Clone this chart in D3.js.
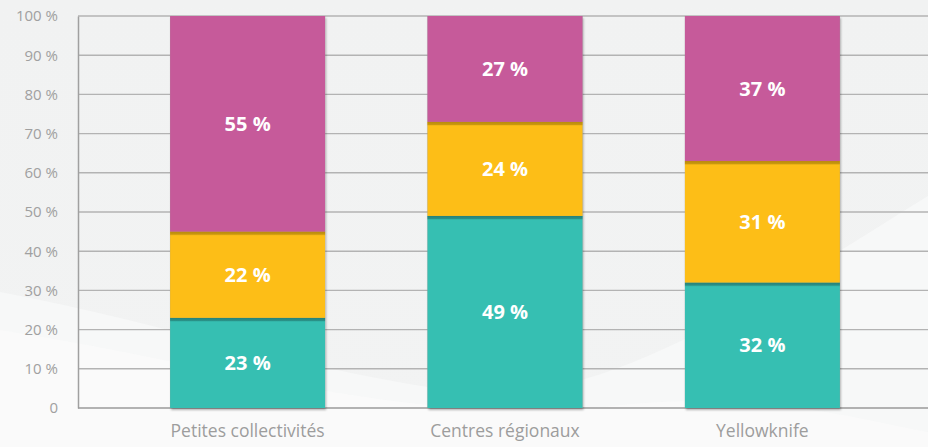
<!DOCTYPE html>
<html>
<head>
<meta charset="utf-8">
<script src="https://cdn.jsdelivr.net/npm/d3@7"></script>
<style>
  html, body { margin: 0; padding: 0; background: #f2f3f3; }
  svg { display: block; }
</style>
</head>
<body>
<div id="chart"></div>
<script>
const categories = ["Petites collectivités", "Centres régionaux", "Yellowknife"];
const seriesNames = ["bas", "milieu", "haut"];
const seriesBas = [23, 49, 32];
const seriesMilieu = [22, 24, 31];
const seriesHaut = [55, 27, 37];
const yTicks = [0, 10, 20, 30, 40, 50, 60, 70, 80, 90, 100];
const yTickLabels = ["0", "10 %", "20 %", "30 %", "40 %", "50 %", "60 %", "70 %", "80 %", "90 %", "100 %"];

const colors = ["#36bfb2", "#fdbe17", "#c65a9a"];
const edgeColors = ["#268178", "#b88a0c", "#9e4479"];

const W = 928, H = 447;
const margin = { left: 78, top: 16, bottom: 39 };

const svg = d3.select("#chart").append("svg")
  .attr("width", W).attr("height", H);

const defs = svg.append("defs");
const bg = defs.append("linearGradient").attr("id", "bg").attr("x1", 0).attr("y1", 0).attr("x2", 0).attr("y2", 1);
bg.append("stop").attr("offset", "0%").attr("stop-color", "#f1f2f2");
bg.append("stop").attr("offset", "100%").attr("stop-color", "#f2f3f3");

const sh = defs.append("filter").attr("id", "shadow").attr("x", "-10%").attr("y", "-10%").attr("width", "120%").attr("height", "120%");
sh.append("feDropShadow").attr("dx", 1).attr("dy", 2).attr("stdDeviation", 1)
  .attr("flood-color", "#000").attr("flood-opacity", 0.3);

seriesNames.forEach((s, i) => {
  const g = defs.append("linearGradient").attr("id", "edge" + i).attr("x1", 0).attr("y1", 0).attr("x2", 0).attr("y2", 1);
  g.append("stop").attr("offset", "0%").attr("stop-color", edgeColors[i]);
  g.append("stop").attr("offset", "60%").attr("stop-color", edgeColors[i]).attr("stop-opacity", 0.75);
  g.append("stop").attr("offset", "100%").attr("stop-color", colors[i]).attr("stop-opacity", 0);
});

// background
svg.append("rect").attr("width", W).attr("height", H).attr("fill", "url(#bg)");
svg.append("path")
  .attr("d", "M0,292 C150,320 300,370 460,392 C600,410 760,300 928,196 L928,447 L0,447 Z")
  .attr("fill", "#f7f8f8");
svg.append("path")
  .attr("d", "M0,330 C200,360 420,430 620,405 C760,390 860,420 928,432 L928,447 L0,447 Z")
  .attr("fill", "#fafafa").attr("opacity", 0.8);

const y = d3.scaleLinear().domain([0, 100]).range([H - margin.bottom, margin.top]);
const x = d3.scaleBand().domain(categories).range([margin.left, 932]).paddingInner(0.398).paddingOuter(0.358);

// grid
const grid = svg.append("g");
grid.selectAll("line").data(yTicks.filter(d => d > 0)).join("line")
  .attr("x1", margin.left).attr("x2", W)
  .attr("y1", d => y(d)).attr("y2", d => y(d))
  .attr("stroke", "#b3b3b3").attr("stroke-width", 1.4);

// y axis
const yAxis = d3.axisLeft(y).tickValues(yTicks).tickSize(0).tickPadding(20)
  .tickFormat((d, i) => yTickLabels[i]);
const ya = svg.append("g").attr("transform", `translate(${margin.left},0)`).call(yAxis);
ya.select(".domain").attr("stroke", "#a0a0a0").attr("stroke-width", 1.5);
ya.selectAll("text").attr("fill", "#a0a0a0").attr("font-family", "Open Sans").attr("font-size", 15);

// baseline
svg.append("line").attr("x1", margin.left).attr("x2", W)
  .attr("y1", y(0)).attr("y2", y(0)).attr("stroke", "#9a9a9a").attr("stroke-width", 1.5);

// stack
const table = categories.map((c, i) => ({ cat: c, bas: seriesBas[i], milieu: seriesMilieu[i], haut: seriesHaut[i] }));
const stacked = d3.stack().keys(seriesNames)(table);

const bars = svg.append("g");
bars.selectAll("rect.sh").data(table).join("rect").attr("class", "sh")
  .attr("x", d => x(d.cat)).attr("width", x.bandwidth())
  .attr("y", d => y(d.bas + d.milieu + d.haut)).attr("height", d => y(0) - y(d.bas + d.milieu + d.haut))
  .attr("fill", "#999").attr("filter", "url(#shadow)");

stacked.forEach((layer, li) => {
  const g = bars.append("g");
  g.selectAll("rect").data(layer).join("rect")
    .attr("x", d => x(d.data.cat)).attr("width", x.bandwidth())
    .attr("y", d => y(d[1])).attr("height", d => y(d[0]) - y(d[1]))
    .attr("fill", colors[li]);
  if (li < stacked.length - 1) {
    g.selectAll("rect.edge").data(layer).join("rect").attr("class", "edge")
      .attr("x", d => x(d.data.cat)).attr("width", x.bandwidth())
      .attr("y", d => y(d[1])).attr("height", 4.5)
      .attr("fill", `url(#edge${li})`);
  }
  g.selectAll("text").data(layer).join("text")
    .attr("x", d => x(d.data.cat) + x.bandwidth() / 2)
    .attr("y", d => (y(d[0]) + y(d[1])) / 2)
    .attr("dy", "0.36em")
    .attr("text-anchor", "middle")
    .attr("fill", "#fff").attr("font-family", "Open Sans").attr("font-weight", 700).attr("font-size", 20)
    .text(d => (d[1] - d[0]) + " %");
});

// x labels
const xAxis = d3.axisBottom(x).tickSize(0).tickPadding(17);
const xa = svg.append("g").attr("transform", `translate(0,${y(0)})`).call(xAxis);
xa.select(".domain").remove();
xa.selectAll("text").attr("fill", "#9d9d9d").attr("font-family", "Open Sans").attr("font-size", 17.5);
</script>
</body>
</html>
